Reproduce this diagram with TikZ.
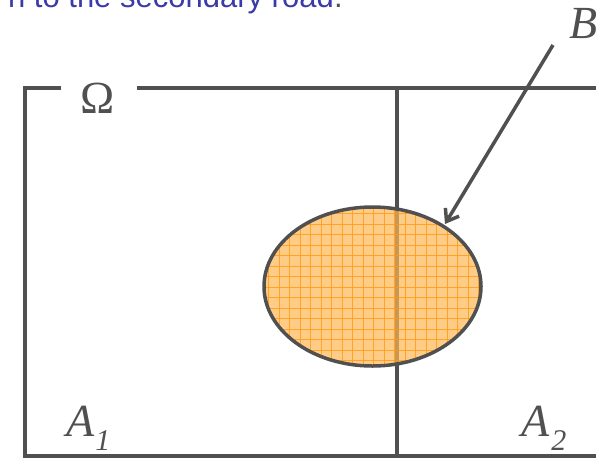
\documentclass[tikz,border=0pt]{standalone}
\usepackage{fontspec}
\usetikzlibrary{shapes.geometric,arrows.meta}
\setmainfont{Liberation Serif}
\newfontfamily\capfont{Liberation Sans}
\newcommand{\subsc}[1]{\raisebox{-14pt}{\fontsize{30}{32}\selectfont #1}}
\begin{document}
\begin{tikzpicture}[x=1pt,y=-1pt,
  frame/.style={draw=lineg,line width=3.5pt},
  lbl/.style={text=lineg,font=\fontsize{46}{50}\selectfont,inner sep=0pt}]
\definecolor{lineg}{HTML}{505050}
\definecolor{capblue}{HTML}{3A3AA8}
\definecolor{orfill}{RGB}{255,182,85}
\definecolor{orgrid}{HTML}{FF9A10}
\useasboundingbox (0,0) rectangle (596,459);
\clip (0,0) rectangle (596,459);
% caption fragment
\node[anchor=base east,inner sep=0pt,text=capblue,font=\capfont\fontsize{31}{34}\selectfont] (cap) at (334,7) {n to the secondary road};
\node[anchor=base west,inner sep=0pt,text=lineg,font=\capfont\fontsize{31}{34}\selectfont] (dot) at (cap.base east) {.};
% frame
\coordinate (tl) at (25,88);
\coordinate (bl) at (25,456);
\coordinate (br) at (600,456);
\coordinate (tr) at (600,88);
\coordinate (g1) at (61,88);
\coordinate (g2) at (137,88);
\coordinate (vt) at (397,88);
\coordinate (vb) at (397,456);
\draw[frame] (g1) -- (tl) -- (bl) -- (br);
\draw[frame] (g2) -- (tr);
\draw[frame] (vt) -- (vb);
\node[lbl,anchor=base] (omega) at (98,113) {Ω};
% ellipse B
\coordinate (ec) at (372.5,286.5);
\fill[orfill,fill opacity=0.7] (ec) ellipse [x radius=108.5, y radius=79.5];
\begin{scope}
\clip (ec) ellipse [x radius=108.5, y radius=79.5];
\foreach \i in {0,...,22} {
  \draw[orgrid,line width=0.9pt,opacity=0.8] (258+\i*10.5,200) -- (258+\i*10.5,370);
}
\foreach \j in {0,...,17} {
  \draw[orgrid,line width=0.9pt,opacity=0.8] (260,203+\j*10.5) -- (485,203+\j*10.5);
}
\end{scope}
\node[draw=lineg,line width=3.5pt,ellipse,minimum width=217pt,minimum height=159pt,inner sep=0pt] (B) at (ec) {};
% B label and arrow
\node[lbl,anchor=base west] (Blab) at (569,38) {\itshape B};
\coordinate (as) at (553,45);
\draw[lineg,line width=3.5pt,-{Straight Barb[length=11pt,width=16pt]}] (as) -- (445,224);
% region labels
\node[lbl,anchor=base west] (A1) at (66,436) {\itshape A\kern1pt\subsc{\itshape 1}};
\node[lbl,anchor=base west] (A2) at (521,436) {\itshape A\kern2pt\subsc{2}};
\end{tikzpicture}
\end{document}
